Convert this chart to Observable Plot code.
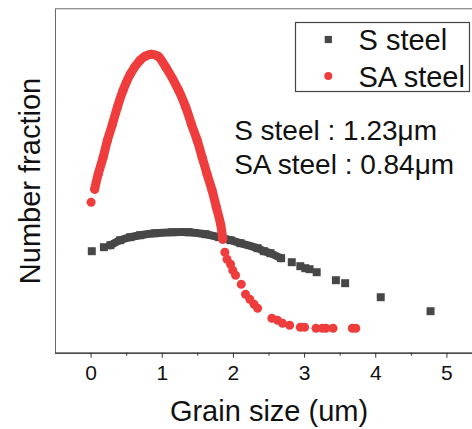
<!DOCTYPE html>
<html><head><meta charset="utf-8">
<script src="https://cdn.jsdelivr.net/npm/d3@7"></script>
<script src="https://cdn.jsdelivr.net/npm/@observablehq/plot@0.6"></script>
<style>
html,body{margin:0;padding:0;background:#fff;overflow:hidden;width:472px;height:429px;}
#chart{position:relative;width:472px;height:429px;overflow:hidden;}
#chart svg{max-width:none !important;width:482px;height:429px;display:block;}
</style></head><body><div id="chart"></div>
<script>
// S steel (squares)
const sX = [0.01, 0.18, 0.27, 0.41, 0.55, 0.69, 0.90, 1.14, 1.37, 1.61, 1.80, 1.96, 2.10, 2.34, 2.43, 2.52, 2.67, 2.82, 2.94, 3.01, 3.07, 3.17, 3.44, 3.57, 4.07, 4.77];
const sY = [1.02, 1.06, 1.08, 1.13, 1.16, 1.18, 1.20, 1.21, 1.21, 1.19, 1.16, 1.13, 1.10, 1.05, 1.02, 1.00, 0.95, 0.91, 0.87, 0.85, 0.84, 0.81, 0.73, 0.70, 0.56, 0.42];
// SA steel (circles)
const saX = [0.00, 0.05, 0.10, 0.17, 0.23, 0.30, 0.37, 0.45, 0.55, 0.69, 0.76, 0.84, 0.94, 1.05, 1.23, 1.33, 1.41, 1.49, 1.56, 1.63, 1.70, 1.76, 1.82, 1.85, 1.88, 1.91, 1.96, 1.99, 2.03, 2.11, 2.17, 2.23, 2.29, 2.34, 2.54, 2.62, 2.69, 2.79, 2.94, 3.00, 3.16, 3.25, 3.30, 3.40, 3.67, 3.72];
const saY = [1.51, 1.64, 1.79, 1.96, 2.13, 2.29, 2.46, 2.63, 2.79, 2.93, 2.97, 2.99, 2.97, 2.86, 2.63, 2.46, 2.29, 2.13, 1.96, 1.79, 1.63, 1.46, 1.29, 1.14, 1.01, 0.94, 0.89, 0.83, 0.78, 0.69, 0.59, 0.54, 0.49, 0.45, 0.35, 0.33, 0.30, 0.28, 0.26, 0.26, 0.25, 0.25, 0.25, 0.25, 0.25, 0.25];
const seriesNames = ["S steel", "SA steel"];
const seriesColors = ["#474747", "#ef3d3d"];
const annoLabels = ["S steel : 1.23μm", "SA steel : 0.84μm"];
const annoX = [2.01, 2.01];
const annoY = [2.134, 1.794];
const majorTicks = [0, 1, 2, 3, 4, 5];
const minorTicks = [0.5, 1.5, 2.5, 3.5, 4.5];
const xTitle = "Grain size (um)";
const yTitle = "Number fraction";

const sData = sX.map((x, i) => ({x, y: sY[i]}));
const saData = saX.map((x, i) => ({x, y: saY[i]}));
const sBand = sData.filter(d => d.x >= 0.27 && d.x <= 2.67);
const saBand = saData.filter(d => d.x >= 0.05 && d.x <= 1.85);
const annos = annoLabels.map((t, i) => ({t, x: annoX[i], y: annoY[i]}));

const fontFamily = '"Liberation Sans", Arial, sans-serif';

const plot = Plot.plot({
  width: 482, height: 429,
  marginLeft: 55, marginRight: 0, marginTop: 8.3, marginBottom: 76.3,
  style: {fontFamily, background: "transparent", color: "#111", overflow: "visible", maxWidth: "none"},
  x: {domain: [-0.5, 5.5], label: null},
  y: {domain: [0, 3.444], axis: null},
  marks: [
    Plot.frame({stroke: "#6a6a6a"}),
    Plot.ruleY([0], {stroke: "#333", strokeWidth: 1.3}),
    Plot.axisX(majorTicks, {tickSize: 5, tickPadding: 7, fontSize: 21, stroke: "#333", label: null}),
    Plot.axisX(minorTicks, {tickSize: 3, tickFormat: () => "", stroke: "#333", label: null}),
    Plot.line(sBand, {x: "x", y: "y", stroke: seriesColors[0], strokeWidth: 8, curve: "catmull-rom"}),
    Plot.dot(sData, {x: "x", y: "y", symbol: "square", r: 4.5, fill: seriesColors[0]}),
    Plot.line(saBand, {x: "x", y: "y", stroke: seriesColors[1], strokeWidth: 9, strokeLinecap: "round", curve: "catmull-rom"}),
    Plot.dot(saData, {x: "x", y: "y", r: 4.5, fill: seriesColors[1]}),
    Plot.text(annos, {x: "x", y: "y", text: "t", textAnchor: "start", lineAnchor: "bottom", fontSize: 28, fill: "#111"}),
    Plot.text([xTitle], {frameAnchor: "bottom", dy: 67.5, lineAnchor: "bottom", textAnchor: "middle", fontSize: 29, fill: "#111"}),
    Plot.text([yTitle], {frameAnchor: "left", rotate: -90, dx: -15.5, lineAnchor: "bottom", textAnchor: "middle", fontSize: 29, fill: "#111"})
  ]
});
document.getElementById("chart").appendChild(plot);

// Legend
const svg = d3.select(plot);
const lg = svg.append("g").attr("font-family", fontFamily).attr("text-anchor", "start");
lg.append("rect").attr("x", 295.5).attr("y", 22.5).attr("width", 174).attr("height", 69)
  .attr("fill", "white").attr("stroke", "#444").attr("stroke-width", 1.2);
const legendRows = [39.5, 76];
const symbols = [d3.symbolSquare, d3.symbolCircle];
seriesNames.forEach((name, i) => {
  lg.append("path").attr("d", d3.symbol(symbols[i], i === 0 ? 52 : 50)())
    .attr("transform", `translate(328.3,${legendRows[i]})`).attr("fill", seriesColors[i]);
  lg.append("text").attr("x", 358.5).attr("y", legendRows[i] + 10.5)
    .attr("text-anchor", "start").attr("font-size", 29).attr("fill", "#111").text(name);
});
</script></body></html>
